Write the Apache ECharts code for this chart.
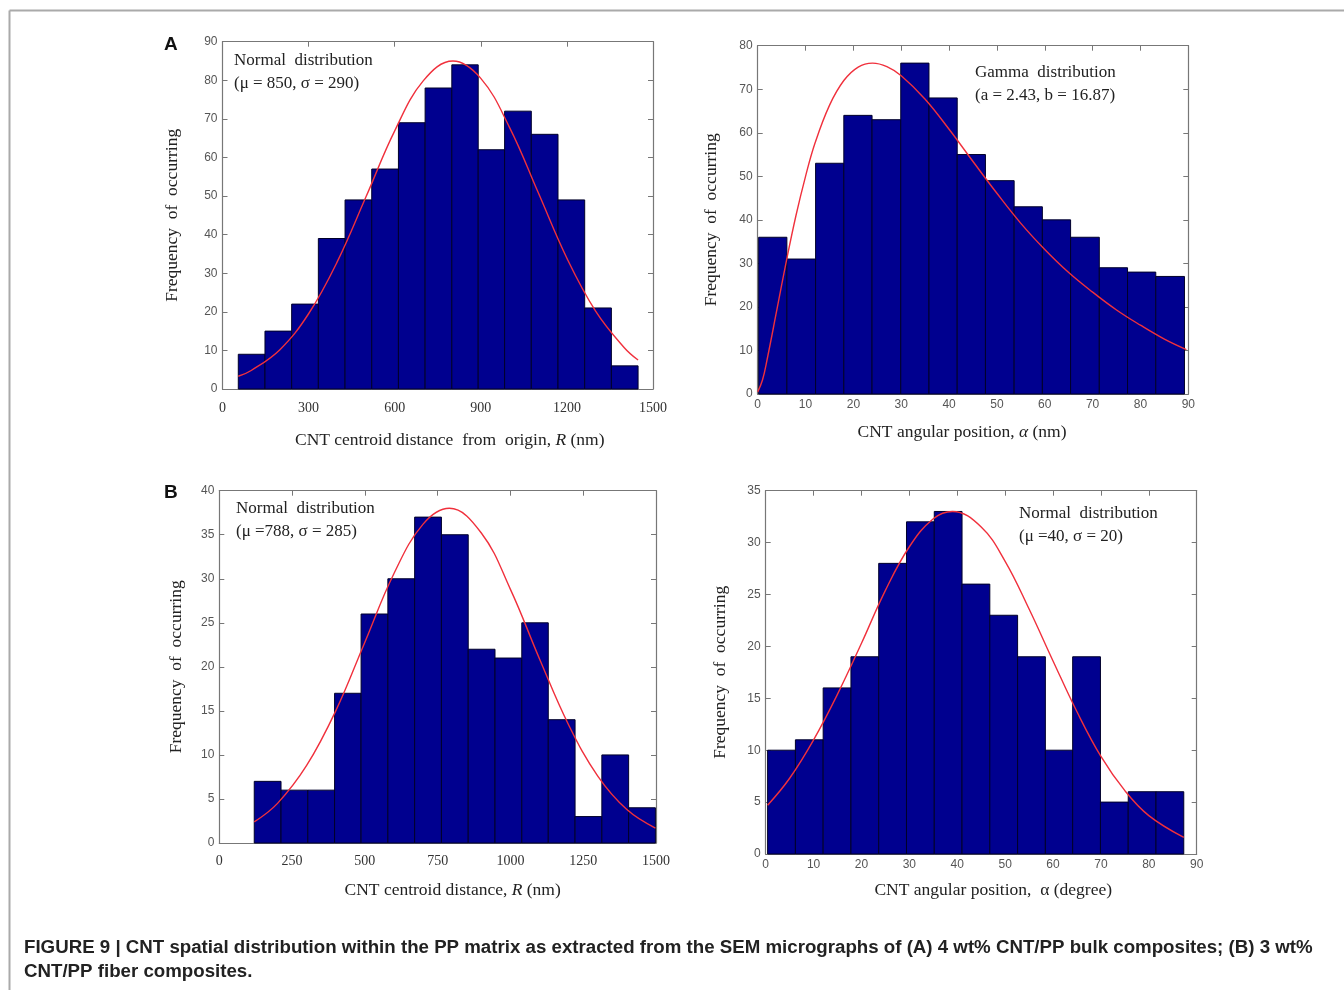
<!DOCTYPE html>
<html><head><meta charset="utf-8">
<script src="https://cdn.jsdelivr.net/npm/echarts@6/dist/echarts.min.js"></script>
<style>html,body{margin:0;padding:0;background:#fff}#c{width:1344px;height:990px}</style>
</head><body><div id="c"></div>
<script>
// ---------- DATA ----------
// Panel A (left): CNT centroid distance from origin R (nm)
const edgesA1 = [55,148,241,334,427,520,613,706,799,891,983,1076,1169,1262,1355,1448];
const countsA1 = [9,15,22,39,49,57,69,78,84,62,72,66,49,21,6];
const curveA1 = [[55,3.3],[100,4.8],[200,10.2],[300,19.5],[400,33.0],[500,49.8],[600,66.9],[700,79.9],[803,85],[900,80.5],[1000,67.8],[1100,50.9],[1200,33.9],[1300,20.2],[1400,10.7],[1448,7.5]];
// Panel A (right): CNT angular position alpha
const edgesA2 = [0.2,6.1,12.1,18.0,23.9,29.9,35.8,41.7,47.6,53.6,59.5,65.4,71.4,77.3,83.2,89.2];
const countsA2 = [36,31,53,64,63,76,68,55,49,43,40,36,29,28,27];
const curveA2 = [[0,0.5],[1,3.2],[2,8.1],[4,19.3],[6,30.6],[8,41.0],[10,50.0],[12,57.7],[15,66.3],[18,72.0],[21,75.1],[24,76],[27,75.2],[30,73.1],[35,67.7],[40,60.8],[45,53.4],[50,46.1],[55,39.2],[60,33.2],[65,27.9],[70,23.4],[75,19.3],[80,15.8],[85,12.6],[89.6,10.2]];
// Panel B (left): CNT centroid distance R (nm)
const edgesB1 = [120,212,304,396,487,579,671,763,855,947,1039,1130,1222,1314,1406,1498];
const countsB1 = [7,6,6,17,26,30,37,35,22,21,25,14,3,10,4];
const curveB1 = [[120,2.4],[200,4.5],[300,8.8],[400,15.0],[500,22.8],[600,30.6],[700,36.2],[790,38],[900,35.2],[1000,28.8],[1100,20.9],[1200,13.4],[1300,7.6],[1400,3.8],[1498,1.7]];
// Panel B (right): CNT angular position alpha (degree)
const edgesB2 = [0.4,6.2,12.0,17.8,23.6,29.4,35.2,41.0,46.8,52.6,58.4,64.1,69.9,75.7,81.5,87.3];
const countsB2 = [10,11,16,19,28,32,33,26,23,19,10,19,5,6,6];
const curveB2 = [[0.4,4.7],[5,7.3],[10,11.0],[15,15.4],[20,20.3],[25,25.4],[30,29.6],[35,32.3],[39,33],[45,31.5],[50,28.2],[55,23.6],[60,18.6],[65,13.7],[70,9.4],[75,6.1],[80,3.7],[87.3,1.6]];
// Axis ranges / ticks
const xMax = [1500, 90, 1500, 90];
const xStep = [300, 10, 250, 10];
const yMax = [90, 80, 40, 35];
const yStep = [10, 10, 5, 5];
const xNames = ['CNT centroid distance  from  origin, {i|R} (nm)', 'CNT angular position, {i|α} (nm)', 'CNT centroid distance, {i|R} (nm)', 'CNT angular position,  α (degree)'];
const yName = 'Frequency  of  occurring';
const notes = [['Normal  distribution','(μ = 850, σ = 290)'],['Gamma  distribution','(a = 2.43, b = 16.87)'],['Normal  distribution','(μ =788, σ = 285)'],['Normal  distribution','(μ =40, σ = 20)']];
const caption1 = 'FIGURE 9 | CNT spatial distribution within the PP matrix as extracted from the SEM micrographs of (A) 4 wt% CNT/PP bulk composites; (B) 3 wt%';
const caption2 = 'CNT/PP fiber composites.';

// ---------- LAYOUT ----------
const grids = [
  {left:222.5, top:41.7, width:430.5, height:347.3},
  {left:757.7, top:45.7, width:430.6, height:348.3},
  {left:219.3, top:490.7, width:436.7, height:352.3},
  {left:765.7, top:490.7, width:431, height:363.3}
];
const xLabelSerif = [true,false,true,false];
const xLabelMargin = [12,5,11,5];
const xNameGap = [42,29,38,27];
const xNameShift = [12,-11,15,12];
const yNameGap = [41,37,34,36];
const notePos = [[234,62],[975,74],[236,510],[1019,515]];

const axisCol = '#777';
const serif = '"Liberation Serif","Times New Roman",serif';
const sans = '"Liberation Sans",Arial,sans-serif';

const xAxes = [], yAxes = [], series = [];
const edgesAll = [edgesA1, edgesA2, edgesB1, edgesB2];
const countsAll = [countsA1, countsA2, countsB1, countsB2];
const curvesAll = [curveA1, curveA2, curveB1, curveB2];
const plain = v => String(v);

for (let i=0;i<4;i++){
  const sh = xNameShift[i];
  xAxes.push({
    type:'value', gridIndex:i, min:0, max:xMax[i], interval:xStep[i], position:'bottom',
    axisLine:{show:true, onZero:false, lineStyle:{color:axisCol, width:1.2}},
    axisTick:{show:true, inside:true, length:5, lineStyle:{color:axisCol}},
    splitLine:{show:false},
    axisLabel:{margin:xLabelMargin[i], color: xLabelSerif[i] ? '#333' : '#555', formatter:plain,
      fontFamily: xLabelSerif[i] ? serif : sans, fontSize: xLabelSerif[i] ? 14 : 12},
    name:xNames[i], nameLocation:'middle', nameGap:xNameGap[i],
    nameTextStyle:{fontFamily:serif, fontSize:17.5, color:'#222',
      padding: sh>0 ? [0,0,0,2*sh] : [0,-2*sh,0,0],
      rich:{i:{fontFamily:serif, fontSize:17.5, fontStyle:'italic', color:'#222'}}}
  });
  xAxes.push({
    type:'value', gridIndex:i, min:0, max:xMax[i], interval:xStep[i], position:'top',
    axisLine:{show:true, onZero:false, lineStyle:{color:axisCol, width:1.2}},
    axisTick:{show:true, inside:true, length:5, lineStyle:{color:axisCol}},
    axisLabel:{show:false}, splitLine:{show:false}
  });
  yAxes.push({
    type:'value', gridIndex:i, min:0, max:yMax[i], interval:yStep[i], position:'left',
    axisLine:{show:true, onZero:false, lineStyle:{color:axisCol, width:1.2}},
    axisTick:{show:true, inside:true, length:5, lineStyle:{color:axisCol}},
    splitLine:{show:false},
    axisLabel:{margin:5, color:'#555', fontFamily:sans, fontSize:12, formatter:plain},
    name:yName, nameLocation:'middle', nameGap:yNameGap[i], nameRotate:90,
    nameTextStyle:{fontFamily:serif, fontSize:17.5, color:'#222'}
  });
  yAxes.push({
    type:'value', gridIndex:i, min:0, max:yMax[i], interval:yStep[i], position:'right',
    axisLine:{show:true, onZero:false, lineStyle:{color:axisCol, width:1.2}},
    axisTick:{show:true, inside:true, length:5, lineStyle:{color:axisCol}},
    axisLabel:{show:false}, splitLine:{show:false}
  });
  const e = edgesAll[i], c = countsAll[i];
  const histData = c.map((v,k)=>[e[k], e[k+1], v]);
  series.push({
    type:'custom', xAxisIndex:2*i, yAxisIndex:2*i, data:histData, encode:{x:[0,1], y:2}, z:2,
    renderItem:function(params, api){
      const p0 = api.coord([api.value(0), api.value(2)]);
      const p1 = api.coord([api.value(1), 0]);
      return {type:'rect', shape:{x:p0[0], y:p0[1], width:p1[0]-p0[0], height:p1[1]-p0[1]},
        style:{fill:'#00008F', stroke:'#00002a', lineWidth:1}};
    }
  });
  series.push({
    type:'line', xAxisIndex:2*i, yAxisIndex:2*i, data:curvesAll[i], smooth:0.4,
    showSymbol:false, symbol:'none', z:5, clip:true,
    lineStyle:{color:'#f0303c', width:1.4}
  });
}

const graphic = [
  {type:'line', shape:{x1:9.5, y1:10.5, x2:1344, y2:10.5}, style:{stroke:'#aaa', lineWidth:2}},
  {type:'line', shape:{x1:9.5, y1:10.5, x2:9.5, y2:990}, style:{stroke:'#aaa', lineWidth:2}},
  {type:'text', left:164, top:35, style:{text:'A', font:'bold 19px '+sans, fill:'#111'}},
  {type:'text', left:164, top:483, style:{text:'B', font:'bold 19px '+sans, fill:'#111'}},
  {type:'text', left:24, top:938, style:{text:caption1, font:'bold 18.7px '+sans, fill:'#222'}},
  {type:'text', left:24, top:962, style:{text:caption2, font:'bold 18.7px '+sans, fill:'#222'}}
];
for (let i=0;i<4;i++){
  graphic.push({type:'text', left:notePos[i][0], top:notePos[i][1]-10, z:10,
    style:{text:notes[i][0], font:'17px '+serif, fill:'#222'}});
  graphic.push({type:'text', left:notePos[i][0], top:notePos[i][1]+13, z:10,
    style:{text:notes[i][1], font:'17px '+serif, fill:'#222'}});
}

const chart = echarts.init(document.getElementById('c'), null, {renderer:'canvas'});
chart.setOption({
  backgroundColor:'#fff', animation:false,
  grid: grids.map(g=>Object.assign({containLabel:false}, g)),
  xAxis:xAxes, yAxis:yAxes, series:series, graphic:graphic
});
</script></body></html>
